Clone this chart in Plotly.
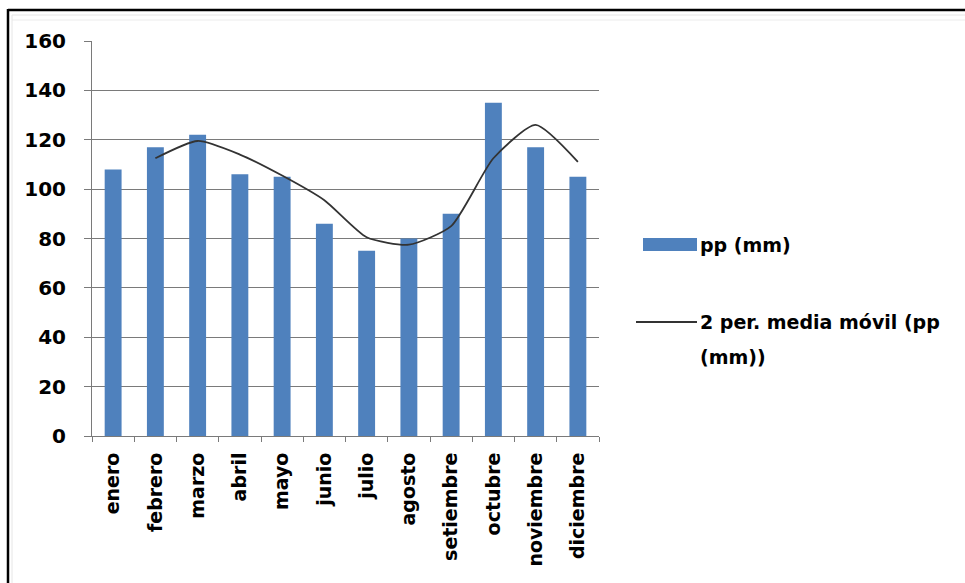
import plotly.graph_objects as go

# Monthly precipitation (mm)
meses = ["enero", "febrero", "marzo", "abril", "mayo", "junio", "julio",
         "agosto", "setiembre", "octubre", "noviembre", "diciembre"]
pp_mm = [108, 117, 122, 106, 105, 86, 75, 80, 90, 135, 117, 105]
# 2-period moving average of pp (mm); first month has no value
media_movil = [None, 112.5, 119.5, 114, 105.5, 95.5, 80.5, 77.5, 85, 112.5, 126, 111]

y_ticks = [0, 20, 40, 60, 80, 100, 120, 140, 160]

nombre_barras = "pp (mm)"
nombre_linea = "2 per. media móvil (pp<br>(mm))"

W, H = 965, 583
L, R, T, B = 92, 366, 41, 147
PW, PH = W - L - R, H - T - B

def px(xp):
    return (xp - L) / PW

def py(yp):
    return (H - B - yp) / PH

BAR_COLOR = "#4f81bd"
GRID = "#7a7a7a"
LINE_COLOR = "#333333"
FONT = dict(family="DejaVu Sans", size=19, color="#000000", weight="bold")

fig = go.Figure()
fig.add_trace(go.Bar(
    x=meses, y=pp_mm, name=nombre_barras,
    marker=dict(color=BAR_COLOR, line=dict(width=0)),
    showlegend=False,
))
fig.add_trace(go.Scatter(
    x=meses, y=media_movil, name=nombre_linea, mode="lines",
    line=dict(color=LINE_COLOR, width=1.8, shape="spline", smoothing=0.6),
    showlegend=False,
))

shapes = [
    # outer frame
    dict(type="line", xref="paper", yref="paper", x0=px(8), x1=px(W + 5), y0=py(10), y1=py(10),
         line=dict(color="#000000", width=2.5)),
    dict(type="line", xref="paper", yref="paper", x0=px(8), x1=px(8), y0=py(9), y1=py(H + 5),
         line=dict(color="#000000", width=2.5)),
    dict(type="line", xref="paper", yref="paper", x0=px(12), x1=px(W + 5), y0=py(15), y1=py(15),
         line=dict(color="#e6e6e6", width=1)),
    dict(type="line", xref="paper", yref="paper", x0=px(12), x1=px(W + 5), y0=py(20), y1=py(20),
         line=dict(color="#ececec", width=1)),
    dict(type="line", xref="paper", yref="paper", x0=px(12), x1=px(12), y0=py(15), y1=py(H + 5),
         line=dict(color="#e6e6e6", width=1)),
    # legend keys
    dict(type="rect", xref="paper", yref="paper", x0=px(643), x1=px(697), y0=py(238), y1=py(251),
         fillcolor=BAR_COLOR, line=dict(width=0)),
    dict(type="line", xref="paper", yref="paper", x0=px(636), x1=px(697), y0=py(322), y1=py(322),
         line=dict(color=LINE_COLOR, width=1.8)),
]

annotations = [
    dict(xref="paper", yref="paper", x=px(698), y=py(245), text=nombre_barras,
         showarrow=False, xanchor="left", yanchor="middle", font=FONT),
    dict(xref="paper", yref="paper", x=px(698), y=py(322), text="2 per. media móvil (pp",
         showarrow=False, xanchor="left", yanchor="middle", font=FONT),
    dict(xref="paper", yref="paper", x=px(698), y=py(357), text="(mm))",
         showarrow=False, xanchor="left", yanchor="middle", font=FONT),
]

fig.update_layout(
    width=W, height=H,
    margin=dict(l=L, r=R, t=T, b=B),
    paper_bgcolor="#ffffff", plot_bgcolor="#ffffff",
    bargap=0.6,
    shapes=shapes,
    annotations=annotations,
    font=FONT,
)
fig.update_xaxes(
    type="category",
    tickangle=-90,
    tickfont=dict(family="DejaVu Sans", size=19, color="#000000", weight="bold"),
    showgrid=False,
    showline=True, linecolor=GRID, linewidth=1,
    ticks="outside", tickson="boundaries", ticklen=5, tickcolor=GRID,
    ticklabelstandoff=8,
)
fig.update_yaxes(
    range=[0, 160],
    tickvals=y_ticks,
    tickfont=dict(family="DejaVu Sans", size=20, color="#000000", weight="bold"),
    showgrid=True, gridcolor=GRID, gridwidth=1,
    showline=True, linecolor=GRID, linewidth=1,
    ticks="outside", ticklen=7, tickcolor=GRID,
    zeroline=False,
    ticklabelstandoff=14,
)

fig.write_html("out.html")
